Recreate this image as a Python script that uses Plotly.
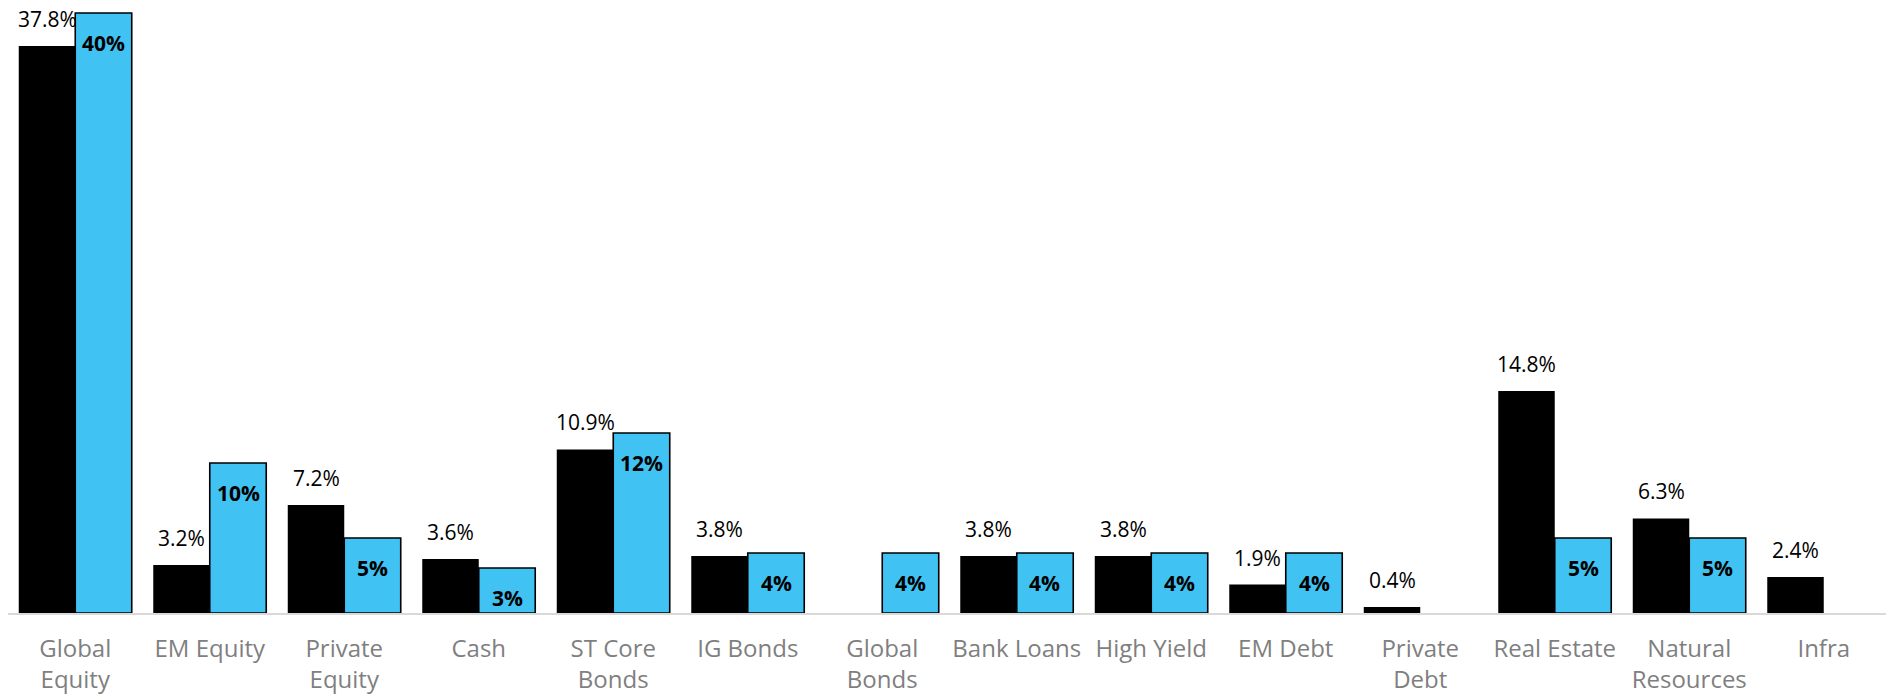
import plotly.graph_objects as go

categories = ["Global<br>Equity", "EM Equity", "Private<br>Equity", "Cash", "ST Core<br>Bonds",
              "IG Bonds", "Global<br>Bonds", "Bank Loans", "High Yield", "EM Debt",
              "Private<br>Debt", "Real Estate", "Natural<br>Resources", "Infra"]
current = [37.8, 3.2, 7.2, 3.6, 10.9, 3.8, None, 3.8, 3.8, 1.9, 0.4, 14.8, 6.3, 2.4]
target = [40, 10, 5, 3, 12, 4, 4, 4, 4, 4, None, 5, 5, None]

FONT = "Open Sans"
BLUE = "#40C2F2"
BARGAP = 0.16
xpos = list(range(len(categories)))
half = (1 - BARGAP) / 4  # offset of each bar centre from the category centre

fig = go.Figure()
fig.add_trace(go.Bar(
    x=xpos, y=current, name="Current",
    marker=dict(color="#000000", line=dict(width=0)),
))
fig.add_trace(go.Bar(
    x=xpos, y=target, name="Target",
    marker=dict(color=BLUE, line=dict(color="#000000", width=1.6)),
))

for i, v in enumerate(current):
    if v is None:
        continue
    fig.add_annotation(x=i - half, y=v, xref="x", yref="y", text=f"{v:.1f}%",
                       showarrow=False, yanchor="middle", yshift=27,
                       font=dict(family=FONT, size=21, color="#000000"))
for i, v in enumerate(target):
    if v is None:
        continue
    fig.add_annotation(x=i + half, y=v, xref="x", yref="y", text=f"<b>{v:.0f}%</b>",
                       showarrow=False, yanchor="middle", yshift=-30,
                       font=dict(family=FONT, size=21, color="#000000"))

fig.update_layout(
    width=1886, height=690,
    margin=dict(l=0, r=3, t=0, b=85),
    barmode="group", bargap=BARGAP, bargroupgap=0,
    plot_bgcolor="#ffffff", paper_bgcolor="#ffffff",
    showlegend=False,
    font=dict(family=FONT),
    xaxis=dict(showline=True, linecolor="#d9d9d9", linewidth=2, ticks="",
               tickmode="array", tickvals=xpos, ticktext=categories,
               range=[-0.5, len(categories) - 0.5],
               tickfont=dict(family=FONT, size=24, color="#7f7f7f"),
               ticklabelstandoff=13, showgrid=False, zeroline=False, tickangle=0),
    yaxis=dict(range=[0, 40.33], visible=False, showgrid=False, zeroline=False),
)

fig.write_html("out.html")
